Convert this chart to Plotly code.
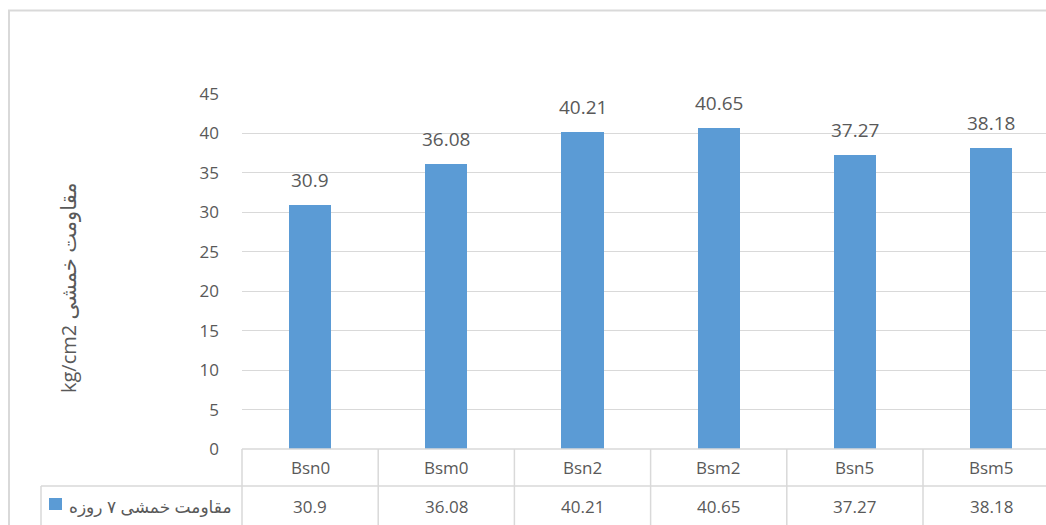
import plotly.graph_objects as go

categories = ["Bsn0", "Bsm0", "Bsn2", "Bsm2", "Bsn5", "Bsm5"]
values = [30.9, 36.08, 40.21, 40.65, 37.27, 38.18]
series_name = "مقاومت خمشی ۷ روزه"
y_title_latin = "kg/cm2"
y_title_fa = "مقاومت خمشی"
y_ticks = [0, 5, 10, 15, 20, 25, 30, 35, 40, 45]

W, H = 1046, 525
L, R, T, B = 242, 0, 94, 76
PW, PH = W - L - R, H - T - B
CAT_PX = 136.2
x0 = -0.5
x1 = x0 + PW / CAT_PX

BAR = "#5b9bd5"
TXT = "#595959"
GRID = "#d9d9d9"
FONT = "Open Sans, DejaVu Sans, sans-serif"


def px_to_paper_x(px):
    return (px - L) / PW


def px_to_paper_y(py):
    return (H - B - py) / PH


def cat_to_paper_x(c):
    return (c - x0) / (x1 - x0)


fig = go.Figure()
fig.add_trace(go.Bar(
    x=list(range(len(categories))), y=values, width=0.31,
    marker=dict(color=BAR, line=dict(width=0)),
    hoverinfo="skip", showlegend=False,
))

ann = []
# data labels
for i, v in enumerate(values):
    ann.append(dict(x=i, y=v, xref="x", yref="y", text=f"{v:g}", showarrow=False,
                    yanchor="middle", yshift=25, font=dict(size=19, color=TXT, family=FONT)))
# table: category row and value row
row1_y = px_to_paper_y(467.5)
row2_y = px_to_paper_y(506)
for i, (c, v) in enumerate(zip(categories, values)):
    ann.append(dict(x=i, y=row1_y, xref="x", yref="paper", text=c, showarrow=False,
                    yanchor="middle", font=dict(size=17, color=TXT, family=FONT)))
    ann.append(dict(x=i, y=row2_y, xref="x", yref="paper", text=f"{v:g}", showarrow=False,
                    yanchor="middle", font=dict(size=17, color=TXT, family=FONT)))
# series label in table
ann.append(dict(x=px_to_paper_x(234), y=row2_y, xref="paper", yref="paper", text=series_name,
                showarrow=False, xanchor="right", yanchor="middle",
                font=dict(size=17, color=TXT, family=FONT)))
# y-axis title
ann.append(dict(x=px_to_paper_x(68), y=px_to_paper_y(288), xref="paper", yref="paper",
                text=f"<span style='font-size:20px'>{y_title_latin}</span> "
                     f"<span style='font-size:21px'>{y_title_fa}</span>",
                showarrow=False, textangle=-90, xanchor="center", yanchor="middle",
                font=dict(size=20, color=TXT, family=FONT)))

shapes = []
line = dict(color=GRID, width=1.5)
# outer border
shapes.append(dict(type="rect", xref="paper", yref="paper",
                   x0=px_to_paper_x(9), x1=px_to_paper_x(1200),
                   y0=px_to_paper_y(700), y1=px_to_paper_y(10.5),
                   line=dict(color=GRID, width=2), fillcolor="rgba(0,0,0,0)", layer="below"))
# table horizontal lines
shapes.append(dict(type="line", xref="paper", yref="paper",
                   x0=0, x1=px_to_paper_x(1200), y0=0, y1=0, line=line))
shapes.append(dict(type="line", xref="paper", yref="paper",
                   x0=px_to_paper_x(41), x1=px_to_paper_x(1200),
                   y0=px_to_paper_y(486), y1=px_to_paper_y(486), line=line))
# table vertical lines
shapes.append(dict(type="line", xref="paper", yref="paper",
                   x0=px_to_paper_x(41), x1=px_to_paper_x(41),
                   y0=px_to_paper_y(486), y1=px_to_paper_y(560), line=line))
for k in range(len(categories) + 1):
    xp = cat_to_paper_x(k - 0.5)
    shapes.append(dict(type="line", xref="paper", yref="paper",
                       x0=xp, x1=xp, y0=0, y1=px_to_paper_y(560), line=line))
# legend key square
shapes.append(dict(type="rect", xref="paper", yref="paper",
                   x0=px_to_paper_x(49), x1=px_to_paper_x(62),
                   y0=px_to_paper_y(510), y1=px_to_paper_y(498),
                   line=dict(width=0), fillcolor=BAR))

fig.update_layout(
    width=W, height=H,
    margin=dict(l=L, r=R, t=T, b=B, pad=0),
    paper_bgcolor="white", plot_bgcolor="white",
    font=dict(family=FONT, color=TXT),
    xaxis=dict(range=[x0, x1], showticklabels=False, showgrid=False, zeroline=False,
               showline=False, ticks=""),
    yaxis=dict(range=[0, 45], tickvals=y_ticks, showgrid=True, gridcolor=GRID, gridwidth=1.3,
               zeroline=False, showline=False, ticks="", ticklabelstandoff=22,
               tickfont=dict(size=17, color=TXT, family=FONT)),
    bargap=0,
    annotations=ann, shapes=shapes,
)

fig.write_html("out.html")
